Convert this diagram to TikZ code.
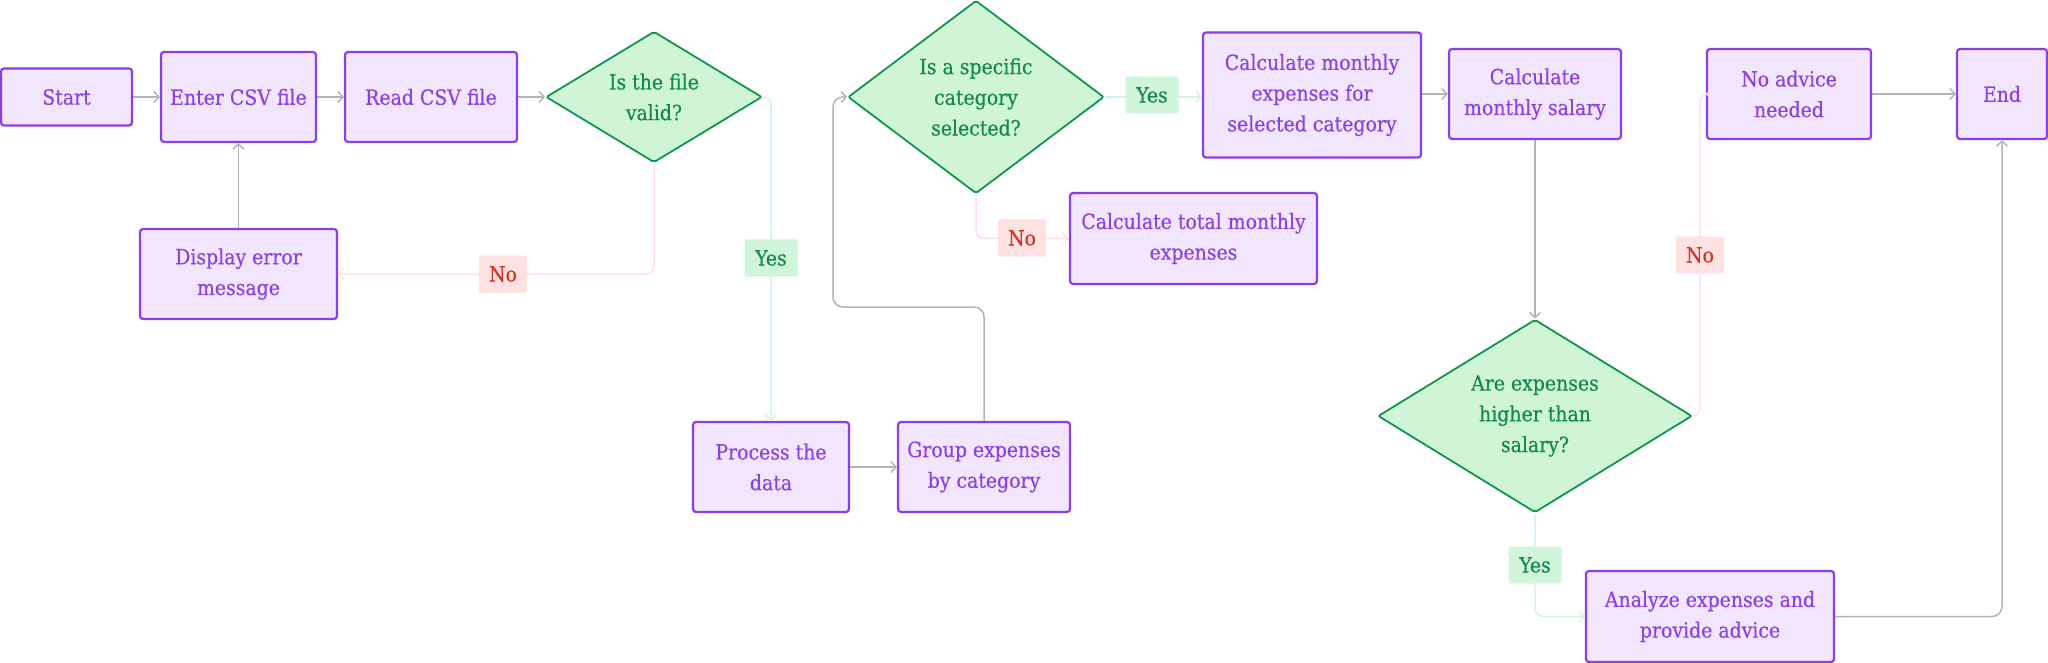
\documentclass[tikz,border=0pt]{standalone}
\usepackage{fontspec}
\setmainfont{DejaVu Serif Condensed}[FakeBold=0.35]
\usetikzlibrary{shapes.geometric,arrows.meta}
\definecolor{boxfill}{HTML}{F2E6FE}
\definecolor{boxline}{HTML}{8A3DEB}
\definecolor{boxtext}{HTML}{8B41E3}
\definecolor{dfill}{HTML}{CFF5D6}
\definecolor{dline}{HTML}{10964A}
\definecolor{dtext}{HTML}{13894A}
\definecolor{yesfill}{HTML}{D0F5DA}
\definecolor{nofill}{HTML}{FDE2E1}
\definecolor{notext}{HTML}{D9311F}
\definecolor{grayline}{HTML}{B4B4B4}
\definecolor{pinkline}{HTML}{FCE2E2}
\definecolor{greenline}{HTML}{D2F5DB}
\begin{document}
\begin{tikzpicture}[x=1pt,y=-1pt,
  every node/.style={font=\fontsize{21}{30.7}\selectfont},
  proc/.style={draw=boxline, fill=boxfill, text=boxtext, line width=2.2pt,
    rounded corners=3pt, inner sep=0pt, align=center},
  dec/.style={diamond, draw=dline, fill=dfill, text=dtext, line width=1.8pt,
    rounded corners=2pt, inner sep=0pt, align=center},
  yeslab/.style={fill=yesfill, text=dtext, rounded corners=2pt, inner sep=0pt,
    minimum width=53pt, minimum height=37pt},
  nolab/.style={fill=nofill, text=notext, rounded corners=2pt, inner sep=0pt,
    minimum width=48pt, minimum height=37pt},
  tip/.style={-{Straight Barb[length=5pt,width=11pt]}},
  garrow/.style={draw=grayline, line width=1.5pt, tip},
  parrow/.style={draw=pinkline, line width=1.5pt, tip},
  yarrow/.style={draw=greenline, line width=1.5pt, tip}
]
\useasboundingbox[fill=white] (0,0) rectangle (2048,663);

% process boxes
\node[proc, minimum width=131pt, minimum height=57pt] (start) at (66.5,97) {Start};
\node[proc, minimum width=155pt, minimum height=90pt] (enter) at (238.5,97) {Enter CSV file};
\node[proc, minimum width=172pt, minimum height=90pt] (read) at (431,97) {Read CSV file};
\node[proc, minimum width=197pt, minimum height=90pt] (display) at (238.5,274) {Display error\\message};
\node[proc, minimum width=156pt, minimum height=90pt] (process) at (771,467) {Process the\\data};
\node[proc, minimum width=172pt, minimum height=90pt] (group) at (984,467) {Group expenses\\by category};
\node[proc, minimum width=218pt, minimum height=125pt] (calcexp) at (1312,95) {Calculate monthly\\expenses for\\selected category};
\node[proc, minimum width=247pt, minimum height=91pt] (calctotal) at (1193.5,238.5) {Calculate total monthly\\expenses};
\node[proc, minimum width=172pt, minimum height=90pt] (salary) at (1535,94) {Calculate\\monthly salary};
\node[proc, minimum width=164pt, minimum height=90pt] (noadvice) at (1789,94) {No advice\\needed};
\node[proc, minimum width=90pt, minimum height=90pt] (end) at (2002,94) {End};
\node[proc, minimum width=248pt, minimum height=91pt] (analyze) at (1710,616.5) {Analyze expenses and\\provide advice};

% decisions
\node[dec, aspect=1.65, minimum width=216pt, minimum height=131pt] (d1) at (654,97) {Is the file\\valid?};
\node[dec, aspect=1.33, minimum width=256pt, minimum height=193pt] (d2) at (976,97) {Is a specific\\category\\selected?};
\node[dec, aspect=1.63, minimum width=314pt, minimum height=193pt] (d3) at (1535,416) {Are expenses\\higher than\\salary?};

% connectors
\draw[garrow] (start.east) -- (start.east -| enter.west);
\draw[garrow] (enter.east) -- (enter.east -| read.west);
\draw[garrow] (read.east) -- (read.east -| d1.west);
\draw[parrow, rounded corners=8pt] (d1.south) |- (display.east);
\draw[garrow] (display.north) -- (enter.south);
\draw[yarrow, rounded corners=8pt] (d1.east) -| (process.north);
\draw[garrow] (process.east) -- (process.east -| group.west);
\draw[garrow, rounded corners=10pt] (group.north) |- (833,307) |- (d2.west);
\draw[yarrow] (d2.east) -- (d2.east -| calcexp.west);
\draw[parrow, rounded corners=8pt] (d2.south) |- (calctotal.west);
\draw[garrow] (calcexp.east |- salary.west) -- (salary.west);
\draw[garrow] (salary.south) -- (d3.north);
\draw[parrow, rounded corners=8pt] (d3.east) -- (1700,416) |- (noadvice.west);
\draw[garrow] (noadvice.east) -- (end.west);
\draw[yarrow, rounded corners=8pt] (d3.south) |- (analyze.west);
\draw[garrow, rounded corners=10pt] (analyze.east) -| (end.south);

% branch labels
\node[nolab] (no1) at (503,274) {No};
\node[yeslab] (yes1) at (771,258) {Yes};
\node[yeslab] (yes2) at (1152,95) {Yes};
\node[nolab] (no2) at (1022,238) {No};
\node[nolab] (no3) at (1700,255) {No};
\node[yeslab] (yes3) at (1535,565) {Yes};
\end{tikzpicture}
\end{document}
